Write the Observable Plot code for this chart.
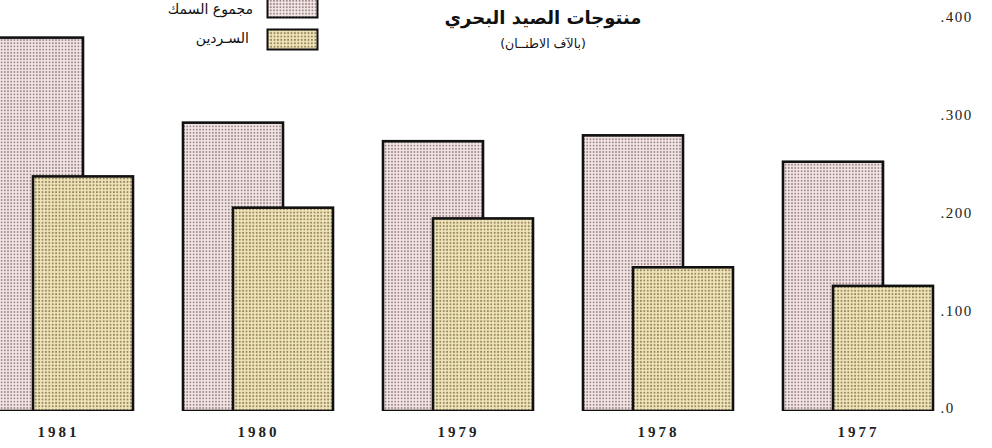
<!DOCTYPE html>
<html>
<head>
<meta charset="utf-8">
<script src="https://cdn.jsdelivr.net/npm/d3@7"></script>
<script src="https://cdn.jsdelivr.net/npm/@observablehq/plot@0.6"></script>
<style>
  html, body { margin: 0; padding: 0; background: #fff; }
  #wrap { position: relative; width: 992px; height: 448px; overflow: hidden; background: #fff; }
  #chart { position: absolute; left: 0; top: 0; }
  .title { position: absolute; left: 433px; width: 220px; text-align: center; direction: rtl;
           font-family: "DejaVu Sans", sans-serif; color: #111; }
  .t1 { top: 7px; font-size: 18px; font-weight: bold; }
  .t2 { top: 36px; font-size: 12.5px; }
  .leg { position: absolute; direction: rtl; font-family: "DejaVu Sans", sans-serif; font-size: 14px; color: #111; }
  .legbox { position: absolute; }
  .xax text { letter-spacing: 3px; }
  .yax text { letter-spacing: 1.5px; }
</style>
</head>
<body>
<svg width="0" height="0" style="position:absolute">
  <defs>
    <pattern id="pinkDots" width="3.2" height="3.2" patternUnits="userSpaceOnUse">
      <rect width="3.2" height="3.2" fill="#f4e8e8"></rect>
      <circle cx="1.6" cy="1.6" r="1.0" fill="#a08888"></circle>
    </pattern>
    <pattern id="beigeDots" width="3.4" height="3.4" patternUnits="userSpaceOnUse">
      <rect width="3.4" height="3.4" fill="#f2e6bc"></rect>
      <circle cx="1.7" cy="1.7" r="1.05" fill="#9a8a60"></circle>
    </pattern>
  </defs>
</svg>
<div id="wrap">
  <div id="chart"></div>
  <div class="title t1">منتوجات الصيد البحري</div>
  <div class="title t2">(بالآف الاطنــان)</div>
  <svg class="legbox" style="left:266px; top:-4px" width="54" height="24">
    <rect x="1.5" y="1.5" width="50" height="20" fill="url(#pinkDots)" stroke="#111" stroke-width="2"></rect>
  </svg>
  <svg class="legbox" style="left:266px; top:28px" width="54" height="24">
    <rect x="1.5" y="1.5" width="50" height="20" fill="url(#beigeDots)" stroke="#111" stroke-width="2"></rect>
  </svg>
  <div class="leg" style="right:739px; top:1px">مجموع السمك</div>
  <div class="leg" style="right:743px; top:30px">السـردين</div>
</div>
<script>
// Data (thousands of tonnes)
const years = [1981, 1980, 1979, 1978, 1977];
const totalFish = [382, 295, 276, 282, 255];   // مجموع السمك
const sardine = [240, 208, 197, 147, 128];     // السردين
const yTicks = [0, 100, 200, 300, 400];
const yTickLabels = [".0", ".100", ".200", ".300", ".400"];
const seriesNames = ["مجموع السمك", "السردين"];

// Bar layout within a year group (in year units on a reversed axis)
const offsets = {
  [seriesNames[0]]: [0.375, -0.125],
  [seriesNames[1]]: [0.125, -0.375]
};
const fills = {
  [seriesNames[0]]: "url(#pinkDots)",
  [seriesNames[1]]: "url(#beigeDots)"
};

const rows = [];
years.forEach((yr, i) => rows.push({year: yr, series: seriesNames[0], value: totalFish[i]}));
years.forEach((yr, i) => rows.push({year: yr, series: seriesNames[1], value: sardine[i]}));

const chart = Plot.plot({
  width: 992,
  height: 448,
  marginTop: 20,
  marginBottom: 37,
  marginLeft: 0,
  marginRight: 55,
  style: {background: "transparent", overflow: "visible"},
  x: {type: "linear", domain: [1981.29, 1976.605]},
  y: {domain: [0, 400]},
  marks: [
    Plot.rectY(rows, {
      x1: d => d.year + offsets[d.series][0],
      x2: d => d.year + offsets[d.series][1],
      y1: 0,
      y2: "value",
      fill: d => fills[d.series],
      stroke: "#111",
      strokeWidth: 2.6,
      clip: true
    }),
    Plot.axisX({
      ticks: years,
      tickFormat: d => String(d),
      tickSize: 0,
      tickPadding: 15,
      fontSize: 15,
      fontWeight: "bold",
      fontFamily: "Liberation Serif, serif",
      fill: "#222",
      className: "xax",
      label: null
    }),
    Plot.axisY({
      anchor: "right",
      ticks: yTicks,
      tickFormat: d => yTickLabels[yTicks.indexOf(d)],
      tickSize: 0,
      tickPadding: 3,
      dy: -3,
      fontSize: 15,
      fontFamily: "Liberation Serif, serif",
      fill: "#222",
      className: "yax",
      label: null
    })
  ]
});
document.getElementById("chart").appendChild(chart);
// letter spacing on axis labels (class names may get prefixed; apply directly)
d3.select(chart).selectAll("g[aria-label='x-axis tick label'] text").style("letter-spacing", "3px");
d3.select(chart).selectAll("g[aria-label='y-axis tick label'] text").style("letter-spacing", "1.5px");
</script>
</body>
</html>
